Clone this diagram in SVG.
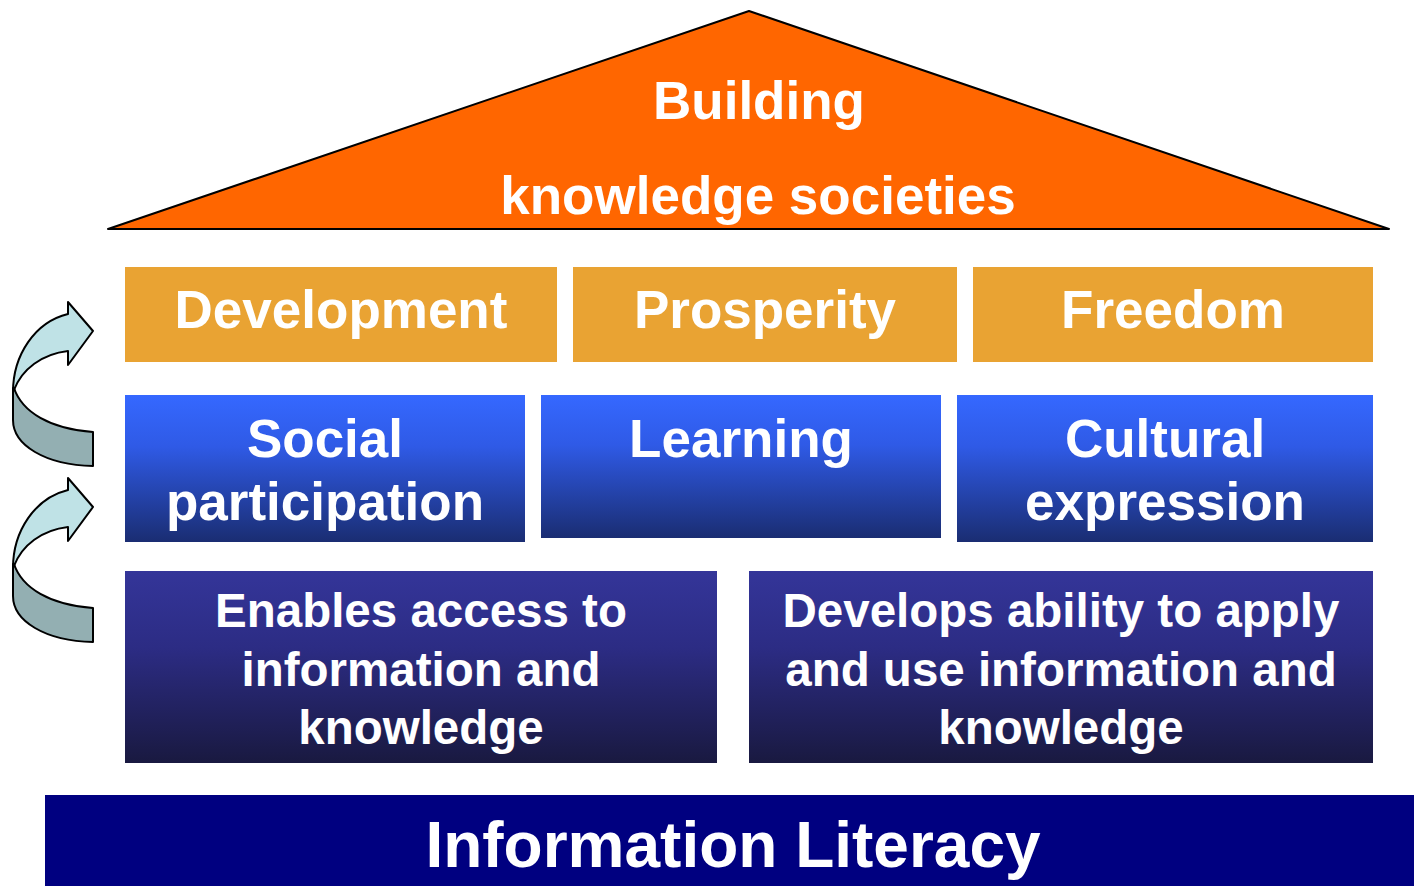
<svg xmlns="http://www.w3.org/2000/svg" width="1414" height="886" viewBox="0 0 1414 886">
  <defs>
    <linearGradient id="blueGrad" x1="0" y1="0" x2="0" y2="1">
      <stop offset="0" stop-color="#3568FF"/>
      <stop offset="0.35" stop-color="#2F5AE6"/>
      <stop offset="1" stop-color="#1A2D72"/>
    </linearGradient>
    <linearGradient id="navyGrad" x1="0" y1="0" x2="0" y2="1">
      <stop offset="0" stop-color="#343599"/>
      <stop offset="0.4" stop-color="#2C2C84"/>
      <stop offset="1" stop-color="#191940"/>
    </linearGradient>
    <g id="curvedArrow">
      <path class="arrowDark" d="M 14,388 C 22,412 50,429 93,432 L 93,466 C 45,465 13,445 13,420 L 13,388 Z"/>
      <path class="arrowLight" d="M 68,314 L 68,302 L 93,331 L 68,365 L 68,351 C 42,354 22,369 14,390 L 13,392 C 13,355 35,322 68,314 Z"/>
    </g>
  </defs>
  <style>
    .lbl { font-family: "Liberation Sans", Arial, sans-serif; font-weight: bold; fill: #FFFFFF; text-anchor: middle; }
    .orange { fill: #E9A333; }
    .arrowLight { fill: #BFE2E6; stroke: #000000; stroke-width: 2; stroke-linejoin: round; }
    .arrowDark { fill: #93AFB2; stroke: #000000; stroke-width: 2; stroke-linejoin: round; }
  </style>
  <rect width="1414" height="886" fill="#FFFFFF"/>

  <g id="roof">
    <polygon points="108,229 749,11 1389,229" fill="#FF6600" stroke="#000000" stroke-width="2" stroke-linejoin="round"/>
    <text class="lbl" x="759" y="119" font-size="53">Building</text>
    <text class="lbl" x="758" y="214" font-size="53">knowledge societies</text>
  </g>

  <g id="development">
    <rect class="orange" x="125" y="267" width="432" height="95"/>
    <text class="lbl" x="341" y="328" font-size="53">Development</text>
  </g>
  <g id="prosperity">
    <rect class="orange" x="573" y="267" width="384" height="95"/>
    <text class="lbl" x="765" y="328" font-size="53">Prosperity</text>
  </g>
  <g id="freedom">
    <rect class="orange" x="973" y="267" width="400" height="95"/>
    <text class="lbl" x="1173" y="328" font-size="53">Freedom</text>
  </g>

  <g id="social-participation">
    <rect x="125" y="395" width="400" height="147" fill="url(#blueGrad)"/>
    <text class="lbl" x="325" y="457" font-size="53">Social</text>
    <text class="lbl" x="325" y="520" font-size="53">participation</text>
  </g>
  <g id="learning">
    <rect x="541" y="395" width="400" height="143" fill="url(#blueGrad)"/>
    <text class="lbl" x="741" y="457" font-size="53">Learning</text>
  </g>
  <g id="cultural-expression">
    <rect x="957" y="395" width="416" height="147" fill="url(#blueGrad)"/>
    <text class="lbl" x="1165" y="457" font-size="53">Cultural</text>
    <text class="lbl" x="1165" y="520" font-size="53">expression</text>
  </g>

  <g id="enables-access">
    <rect x="125" y="571" width="592" height="192" fill="url(#navyGrad)"/>
    <text class="lbl" x="421" y="627" font-size="47.5">Enables access to</text>
    <text class="lbl" x="421" y="686" font-size="47.5">information and</text>
    <text class="lbl" x="421" y="744" font-size="47.5">knowledge</text>
  </g>
  <g id="develops-ability">
    <rect x="749" y="571" width="624" height="192" fill="url(#navyGrad)"/>
    <text class="lbl" x="1061" y="627" font-size="47.5">Develops ability to apply</text>
    <text class="lbl" x="1061" y="686" font-size="47.5">and use information and</text>
    <text class="lbl" x="1061" y="744" font-size="47.5">knowledge</text>
  </g>

  <g id="information-literacy">
    <rect x="45" y="795" width="1369" height="91" fill="#000080"/>
    <text class="lbl" x="733" y="867" font-size="64">Information Literacy</text>
  </g>

  <g id="connectors">
    <use href="#curvedArrow"/>
    <use href="#curvedArrow" transform="translate(0,176)"/>
  </g>
</svg>
